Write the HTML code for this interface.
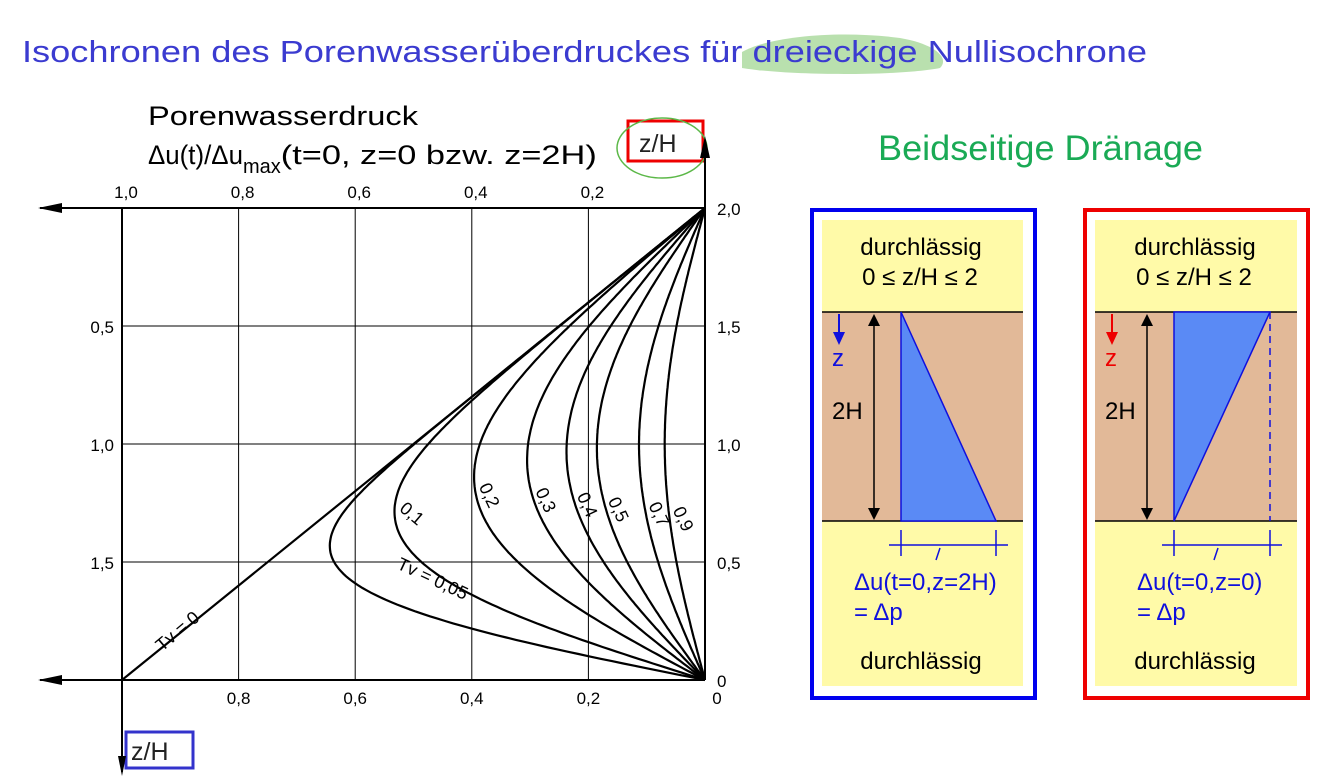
<!DOCTYPE html>
<html><head><meta charset="utf-8"><style>
html,body{margin:0;padding:0;background:#fff;width:1334px;height:782px;overflow:hidden}
svg{display:block}
text{font-family:"Liberation Sans",sans-serif}
</style></head><body>
<svg id="root" width="1334" height="782" viewBox="0 0 1334 782">
<path d="M742,52 C770,36 840,30 900,38 C935,44 950,58 940,68 C900,76 790,76 742,68 Z" fill="#a8d89a" opacity="0.8"/>
<text x="22" y="62" font-size="31" fill="#3b3bd0" textLength="1125" lengthAdjust="spacingAndGlyphs">Isochronen des Porenwasserüberdruckes für dreieckige Nullisochrone</text>
<text x="148" y="125" font-size="27" fill="#000" textLength="270" lengthAdjust="spacingAndGlyphs">Porenwasserdruck</text>
<text x="148" y="164" font-size="27" fill="#000"><tspan textLength="95" lengthAdjust="spacingAndGlyphs">Δu(t)/Δu</tspan><tspan font-size="20" dy="9">max</tspan><tspan dy="-9" textLength="316" lengthAdjust="spacingAndGlyphs">(t=0, z=0 bzw. z=2H)</tspan></text>
<rect x="628" y="121" width="75" height="40" fill="none" stroke="#e00" stroke-width="3"/>
<text x="639" y="152" font-size="25" fill="#222">z/H</text>
<ellipse cx="662" cy="148" rx="45" ry="30" fill="none" stroke="#5cb848" stroke-width="1.5"/>
<rect x="126" y="732" width="67" height="36" fill="none" stroke="#3333cc" stroke-width="3"/>
<text x="131" y="760" font-size="25" fill="#222">z/H</text>
<g id="chart"></g>
<text x="878" y="160" font-size="35" fill="#1aaa55" textLength="325" lengthAdjust="spacingAndGlyphs">Beidseitige Dränage</text>
<g>
<rect x="812" y="210" width="223" height="488" fill="#fff" stroke="#0000ee" stroke-width="4"/>
<rect x="822" y="220" width="201" height="466" fill="#fffaa8"/>
<rect x="822" y="312" width="201" height="209" fill="#e2b998"/>
<line x1="822" y1="312" x2="1023" y2="312" stroke="#000" stroke-width="1.5"/><line x1="822" y1="521" x2="1023" y2="521" stroke="#000" stroke-width="1.5"/>
<polygon points="901,312 901,521 996,521" fill="#5a8af5" stroke="#1010dd" stroke-width="1.5"/>
<text x="921" y="255" font-size="24" text-anchor="middle">durchlässig</text>
<text x="920" y="285" font-size="24" text-anchor="middle">0 ≤ z/H ≤ 2</text>
<line x1="874" y1="318" x2="874" y2="515" stroke="#000" stroke-width="1.5"/><path d="M868,326 L874,314 L880,326Z M868,508 L874,520 L880,508Z" fill="#000"/>
<line x1="839" y1="314" x2="839" y2="338" stroke="#1010dd" stroke-width="2"/><path d="M833,332 L839,345 L845,332Z" fill="#1010dd"/>
<text x="832" y="366" font-size="24" fill="#1010dd">z</text>
<text x="832" y="419" font-size="24">2H</text>
<line x1="889" y1="545" x2="1008" y2="545" stroke="#1010dd" stroke-width="1.5"/><line x1="901" y1="530" x2="901" y2="556" stroke="#1010dd" stroke-width="1.5"/><line x1="996" y1="530" x2="996" y2="556" stroke="#1010dd" stroke-width="1.5"/>
<line x1="940" y1="548" x2="936" y2="560" stroke="#1010dd" stroke-width="1.5"/>
<text x="854" y="590" font-size="24" fill="#1010dd">Δu(t=0,z=2H)</text>
<text x="854" y="620" font-size="24" fill="#1010dd">= Δp</text>
<text x="921" y="669" font-size="24" text-anchor="middle">durchlässig</text>
</g>
<g>
<rect x="1085" y="210" width="223" height="488" fill="#fff" stroke="#ee0000" stroke-width="4"/>
<rect x="1095" y="220" width="202" height="466" fill="#fffaa8"/>
<rect x="1095" y="312" width="202" height="209" fill="#e2b998"/>
<line x1="1095" y1="312" x2="1297" y2="312" stroke="#000" stroke-width="1.5"/><line x1="1095" y1="521" x2="1297" y2="521" stroke="#000" stroke-width="1.5"/>
<polygon points="1174,312 1270,312 1174,521" fill="#5a8af5" stroke="#1010dd" stroke-width="1.5"/>
<line x1="1270" y1="312" x2="1270" y2="521" stroke="#1010dd" stroke-width="1.5" stroke-dasharray="7,5"/>
<text x="1195" y="255" font-size="24" text-anchor="middle">durchlässig</text>
<text x="1194" y="285" font-size="24" text-anchor="middle">0 ≤ z/H ≤ 2</text>
<line x1="1147" y1="318" x2="1147" y2="515" stroke="#000" stroke-width="1.5"/><path d="M1141,326 L1147,314 L1153,326Z M1141,508 L1147,520 L1153,508Z" fill="#000"/>
<line x1="1112" y1="314" x2="1112" y2="338" stroke="#ee0000" stroke-width="2"/><path d="M1106,332 L1112,345 L1118,332Z" fill="#ee0000"/>
<text x="1105" y="366" font-size="24" fill="#ee0000">z</text>
<text x="1105" y="419" font-size="24">2H</text>
<line x1="1162" y1="545" x2="1282" y2="545" stroke="#1010dd" stroke-width="1.5"/><line x1="1174" y1="530" x2="1174" y2="556" stroke="#1010dd" stroke-width="1.5"/><line x1="1270" y1="530" x2="1270" y2="556" stroke="#1010dd" stroke-width="1.5"/>
<line x1="1218" y1="548" x2="1214" y2="560" stroke="#1010dd" stroke-width="1.5"/>
<text x="1137" y="590" font-size="24" fill="#1010dd">Δu(t=0,z=0)</text>
<text x="1137" y="620" font-size="24" fill="#1010dd">= Δp</text>
<text x="1195" y="669" font-size="24" text-anchor="middle">durchlässig</text>
</g>
</svg>
<script>
const tvValues=[0.05,0.1,0.2,0.3,0.4,0.5,0.7,0.9];
const tvLabels=["Tv = 0,05","0,1","0,2","0,3","0,4","0,5","0,7","0,9"];
const xTicks=[1.0,0.8,0.6,0.4,0.2];
const xTickLabels=["1,0","0,8","0,6","0,4","0,2"];
const xBottomTicks=[0.8,0.6,0.4,0.2,0];
const xBottomLabels=["0,8","0,6","0,4","0,2","0"];
const yRightTicks=[2,1.5,1,0.5,0];
const yRightLabels=["2,0","1,5","1,0","0,5","0"];
const yLeftTicks=[0.5,1.0,1.5];
const yLeftLabels=["0,5","1,0","1,5"];
const NS="http://www.w3.org/2000/svg";
const g=document.getElementById('chart');
const X=v=>705-583*v, Y=z=>680-236*z;
function el(t,a){const e=document.createElementNS(NS,t);for(const k in a)e.setAttribute(k,a[k]);g.appendChild(e);return e;}
xTicks.forEach((v,i)=>{const l=el('line',{x1:X(v),y1:Y(2),x2:X(v),y2:Y(0),stroke:'#000','stroke-width':1});

const t=el('text',{x:X(v)+4,y:Y(2)-10,'font-size':17,'text-anchor':'middle'});t.textContent=xTickLabels[i];
});
xBottomTicks.forEach((v,i)=>{const t=el('text',{x:X(v)+(v===0?12:0),y:Y(0)+24,'font-size':17,'text-anchor':'middle'});t.textContent=xBottomLabels[i];
});
yRightTicks.forEach((v,i)=>{if(v>0&&v<2){const l=el('line',{x1:X(1),y1:Y(v),x2:X(0),y2:Y(v),stroke:'#000','stroke-width':1});
}
const t=el('text',{x:X(0)+12,y:Y(v)+7,'font-size':17});t.textContent=yRightLabels[i];
});
yLeftTicks.forEach((v,i)=>{const t=el('text',{x:X(1)-8,y:Y(2-v)+7,'font-size':17,'text-anchor':'end'});t.textContent=yLeftLabels[i];
});
[[40,Y(2),X(0),Y(2)],[40,Y(0),X(0),Y(0)],[X(0),140,X(0),Y(0)],[X(1),Y(2),X(1),772]].forEach(a=>{const l=el('line',{x1:a[0],y1:a[1],x2:a[2],y2:a[3],stroke:'#000','stroke-width':2});
});
[`M38,${Y(2)} L62,${Y(2)-5} L62,${Y(2)+5}Z`,`M38,${Y(0)} L62,${Y(0)-5} L62,${Y(0)+5}Z`,`M${X(0)},136 L${X(0)-5},158 L${X(0)+5},158Z`,`M${X(1)},776 L${X(1)-4},756 L${X(1)+4},756Z`].forEach(d=>{const p=el('path',{d:d,fill:'#000'});
});
const l0=el('line',{x1:X(1),y1:Y(0),x2:X(0),y2:Y(2),stroke:'#000','stroke-width':2.2});

const t0=el('text',{x:0,y:0,'font-size':18,transform:`translate(162,652) rotate(-40)`});t0.textContent='Tv = 0';

function u(zeta,tv){let s=0;for(let n=1;n<=300;n++){s+=2/(n*Math.PI)*Math.sin(n*Math.PI*zeta/2)*Math.exp(-n*n*Math.PI*Math.PI*tv/4);}return s;}
tvValues.forEach((tv,i)=>{let d='';for(let k=0;k<=200;k++){const z=2*k/200;d+=(k?'L':'M')+X(u(z,tv)).toFixed(1)+','+Y(z).toFixed(1);}
const p=el('path',{d:d,fill:'none',stroke:'#000','stroke-width':2.2});

const zl=i===0?0.44:(i===1?0.72:0.86-0.02*i);const xv=u(zl,tv);
const t=el('text',{x:0,y:0,'font-size':18,transform:`translate(${X(xv)+(i===0?50:4)},${Y(zl)+(i===0?-8:0)}) rotate(${i===0?25:(i===1?40:65)})`});t.textContent=tvLabels[i];
});
</script>
</body></html>
